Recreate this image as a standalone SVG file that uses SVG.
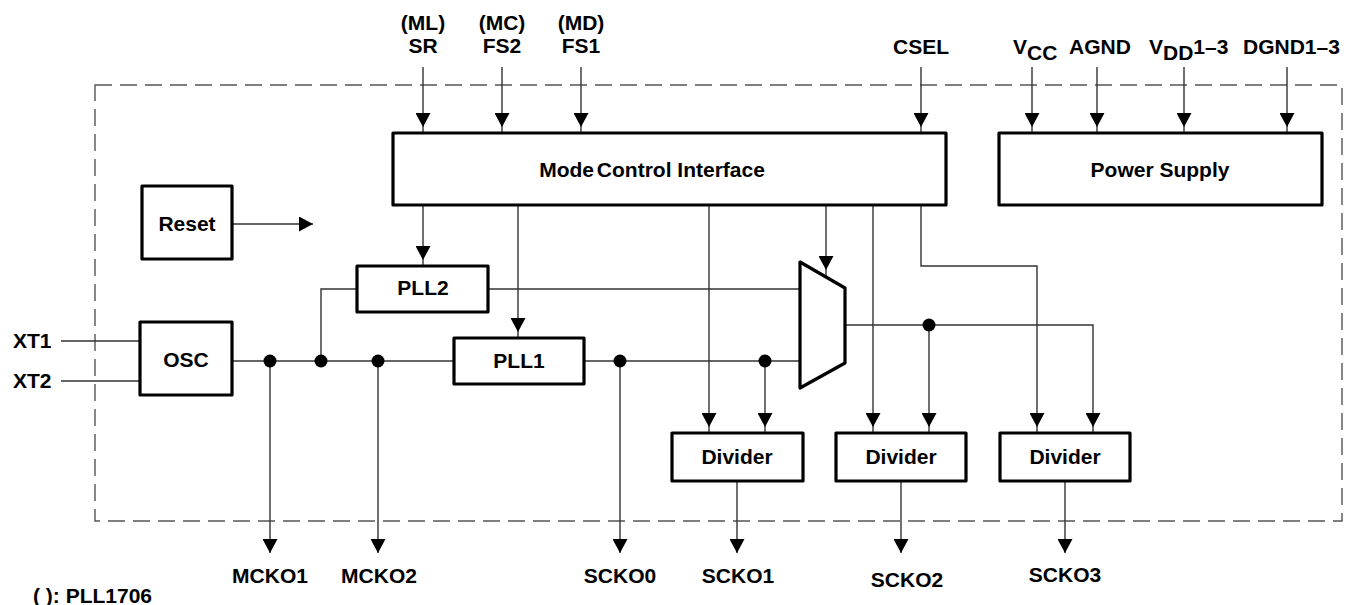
<svg xmlns="http://www.w3.org/2000/svg" width="1356" height="605" viewBox="0 0 1356 605">
<style>
text{font-family:"Liberation Sans",Arial,sans-serif;font-weight:bold;font-size:21px;fill:#000}
.c{text-anchor:middle}
.box{fill:#fff;stroke:#000;stroke-width:3.2;stroke-linejoin:round}
.w{fill:none;stroke:#333;stroke-width:1.4}
.dot{fill:#000}
</style>
<defs>
<marker id="ag" viewBox="0 0 20 15" refX="20" refY="7.5" markerWidth="20" markerHeight="15" markerUnits="userSpaceOnUse" orient="auto"><path d="M0,0 L14,7.5 L0,15 z" fill="#000"/></marker>
<marker id="at" viewBox="0 0 14 15" refX="14" refY="7.5" markerWidth="14" markerHeight="15" markerUnits="userSpaceOnUse" orient="auto"><path d="M0,0 L14,7.5 L0,15 z" fill="#000"/></marker>
</defs>
<rect x="95" y="85" width="1247" height="436" fill="none" stroke="#555" stroke-width="1.4" stroke-dasharray="17 8"/>
<g id="connectors">
<path class="w" marker-end="url(#ag)" d="M423,67V133"/>
<path class="w" marker-end="url(#ag)" d="M502,67V133"/>
<path class="w" marker-end="url(#ag)" d="M581,67V133"/>
<path class="w" marker-end="url(#ag)" d="M921,67V133"/>
<path class="w" marker-end="url(#ag)" d="M1032,67V133"/>
<path class="w" marker-end="url(#ag)" d="M1097,67V133"/>
<path class="w" marker-end="url(#ag)" d="M1184,67V133"/>
<path class="w" marker-end="url(#ag)" d="M1287,67V133"/>
<path class="w" marker-end="url(#at)" d="M232,224H313"/>
<path class="w" d="M61,341H140M61,381H140"/>
<path class="w" d="M232,361H454"/>
<path class="w" d="M321,361V289H357"/>
<path class="w" d="M488,289H800"/>
<path class="w" d="M584,361H800"/>
<path class="w" marker-end="url(#ag)" d="M423,205V266"/>
<path class="w" marker-end="url(#ag)" d="M518,205V338"/>
<path class="w" marker-end="url(#ag)" d="M826,205V276"/>
<path class="w" marker-end="url(#ag)" d="M709,205V433"/>
<path class="w" marker-end="url(#ag)" d="M873,205V433"/>
<path class="w" marker-end="url(#ag)" d="M921,205V266H1037V433"/>
<path class="w" marker-end="url(#ag)" d="M765,361V433"/>
<path class="w" marker-end="url(#ag)" d="M845,325H1093V433"/>
<path class="w" marker-end="url(#ag)" d="M929,325V433"/>
<path class="w" marker-end="url(#at)" d="M270,361V553"/>
<path class="w" marker-end="url(#at)" d="M378,361V553"/>
<path class="w" marker-end="url(#at)" d="M620,361V553"/>
<path class="w" marker-end="url(#at)" d="M737,481V553"/>
<path class="w" marker-end="url(#at)" d="M901,481V553"/>
<path class="w" marker-end="url(#at)" d="M1065,481V553"/>
<circle class="dot" cx="270" cy="361" r="6.5"/>
<circle class="dot" cx="321" cy="361" r="6.5"/>
<circle class="dot" cx="378" cy="361" r="6.5"/>
<circle class="dot" cx="620" cy="361" r="6.5"/>
<circle class="dot" cx="765" cy="361" r="6.5"/>
<circle class="dot" cx="929" cy="325" r="6.5"/>
</g>
<g id="mode-control"><rect class="box" x="393" y="133" width="553" height="72"/><text class="c" x="652" y="177">Mode <tspan dx="-3">Control</tspan> Interface</text></g>
<g id="power-supply"><rect class="box" x="999" y="133" width="323" height="72"/><text class="c" x="1160" y="177">Power Supply</text></g>
<g id="reset"><rect class="box" x="142" y="186" width="90" height="73"/><text class="c" x="187" y="231">Reset</text></g>
<g id="osc"><rect class="box" x="140" y="322" width="92" height="73"/><text class="c" x="186" y="367">OSC</text></g>
<g id="pll2"><rect class="box" x="357" y="266" width="131" height="46"/><text class="c" x="423" y="295">PLL2</text></g>
<g id="pll1"><rect class="box" x="454" y="338" width="130" height="46"/><text class="c" x="519" y="368">PLL1</text></g>
<g id="mux"><polygon class="box" points="800,262 845,288 845,363 800,388"/></g>
<g id="divider1"><rect class="box" x="672" y="433" width="131" height="48"/><text class="c" x="737" y="464">Divider</text></g>
<g id="divider2"><rect class="box" x="836" y="433" width="130" height="48"/><text class="c" x="901" y="464">Divider</text></g>
<g id="divider3"><rect class="box" x="1000" y="433" width="130" height="48"/><text class="c" x="1065" y="464">Divider</text></g>
<g id="labels">
<text class="c" x="423" y="30">(ML)</text><text class="c" x="423" y="53">SR</text>
<text class="c" x="502" y="30">(MC)</text><text class="c" x="502" y="53">FS2</text>
<text class="c" x="581" y="30">(MD)</text><text class="c" x="581" y="53">FS1</text>
<text class="c" x="921" y="54">CSEL</text>
<text x="1013" y="54">V<tspan dy="6">CC</tspan></text>
<text x="1069" y="54">AGND</text>
<text x="1149" y="54">V<tspan dy="6">DD</tspan><tspan dy="-6">1–3</tspan></text>
<text x="1243" y="54">DGND1–3</text>
<text x="13" y="348">XT1</text>
<text x="13" y="388">XT2</text>
<text class="c" x="270" y="583">MCKO1</text>
<text class="c" x="379" y="583">MCKO2</text>
<text class="c" x="620" y="583">SCKO0</text>
<text class="c" x="738" y="583">SCKO1</text>
<text class="c" x="907" y="587">SCKO2</text>
<text class="c" x="1065" y="582">SCKO3</text>
<text x="33" y="603">( ): PLL1706</text>
</g>
</svg>
